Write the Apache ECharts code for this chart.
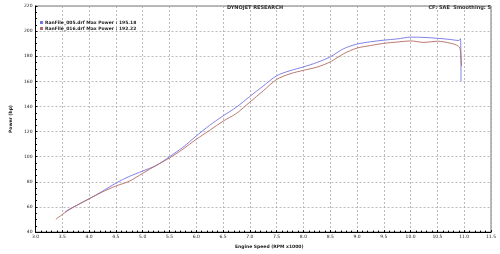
<!DOCTYPE html>
<html>
<head>
<meta charset="utf-8">
<script src="https://cdn.jsdelivr.net/npm/echarts@6/dist/echarts.min.js"></script>
<style>html,body{margin:0;padding:0;background:#fff}#c{width:500px;height:254px}</style>
</head>
<body>
<div id="c"></div>
<script>
const seriesNames = ['RanFile_005.drf Max Power : 195.18', 'RanFile_016.drf Max Power : 192.22'];
const rpm005 = [3.55, 3.6, 3.8, 4.0, 4.25, 4.5, 4.75, 5.0, 5.25, 5.5, 5.75, 6.0, 6.25, 6.5, 6.75, 7.0, 7.25, 7.5, 7.75, 8.0, 8.25, 8.5, 8.75, 9.0, 9.25, 9.5, 9.75, 10.0, 10.25, 10.5, 10.75, 10.9, 10.93, 10.94];
const hp005  = [55.8, 57.5, 62, 66.5, 72.5, 79, 84.3, 88.6, 93, 100, 107.5, 116.5, 125, 132.5, 139.5, 148, 156.3, 164.5, 168.5, 171.5, 175, 179.5, 186, 189.7, 191.5, 192.8, 193.8, 195.2, 195, 194.3, 193.3, 192.5, 194, 160];
const rpm016 = [3.38, 3.6, 3.8, 4.0, 4.25, 4.5, 4.75, 5.0, 5.25, 5.5, 5.75, 6.0, 6.25, 6.5, 6.75, 7.0, 7.25, 7.5, 7.75, 8.0, 8.25, 8.5, 8.75, 9.0, 9.25, 9.5, 9.75, 10.0, 10.25, 10.5, 10.75, 10.85, 10.92, 10.95];
const hp016  = [50.2, 57, 62, 66.5, 72, 76.7, 80.5, 86.8, 93, 99, 106, 113.9, 121, 128.3, 134.5, 143.5, 152.5, 161.5, 166, 168.8, 171.3, 175.5, 182, 186.5, 188.5, 190.3, 191.3, 192.2, 191, 192, 190.3, 189, 186.5, 172];
const colors = ['#7474e4', '#b46a62'];
const titleText = 'DYNOJET RESEARCH';
const infoText = 'CF: SAE  Smoothing: 5';
const xName = 'Engine Speed (RPM x1000)';
const yName = 'Power (hp)';

const pairs = (xs, ys) => xs.map((x, i) => [x, ys[i]]);
const chart = echarts.init(document.getElementById('c'), null, {renderer: 'canvas'});
const font = 'DejaVu Sans';
chart.setOption({
  animation: false,
  backgroundColor: '#fff',
  title: [
    {text: titleText, left: 250, top: 0, textAlign: 'center', textStyle: {fontSize: 5, fontWeight: 'bold', color: '#333', fontFamily: font}},
    {text: infoText, right: 4, top: 0, textStyle: {fontSize: 5, fontWeight: 'bold', color: '#333', fontFamily: font}}
  ],
  legend: {
    left: 35, top: 15, orient: 'vertical', itemWidth: 3, itemHeight: 3, itemGap: 1, icon: 'rect',
    textStyle: {fontSize: 4.5, fontWeight: 'bold', color: '#222', fontFamily: font, padding: [0,0,0,-3]},
    data: seriesNames
  },
  grid: {left: 15, right: 9, top: 6, bottom: 10.5, show: true, borderColor: '#777', borderWidth: 1},
  xAxis: {
    type: 'value', min: 3.0, max: 11.5, interval: 0.5,
    name: xName, nameLocation: 'middle', nameGap: 7,
    nameTextStyle: {fontSize: 4.5, fontWeight: 'bold', color: '#222', fontFamily: font, align: 'center', padding: [0,0,0,12]},
    axisLine: {lineStyle: {color: '#000', width: 1}},
    axisTick: {show: true, length: 2, inside: true, lineStyle: {color: '#000'}},
    minorTick: {show: true, splitNumber: 5, length: 1.5, lineStyle: {color: '#000'}},
    axisLabel: {fontSize: 4.5, color: '#222', margin: 2, fontFamily: font, formatter: v => v.toFixed(1)},
    splitLine: {show: true, lineStyle: {color: '#aaa', type: [2, 2], width: 0.8}}
  },
  yAxis: {
    type: 'value', min: 40, max: 220, interval: 20,
    name: yName, nameLocation: 'middle', nameGap: 10, nameRotate: 90,
    nameTextStyle: {fontSize: 4.5, fontWeight: 'bold', color: '#222', fontFamily: font},
    axisLine: {show: true, lineStyle: {color: '#000', width: 1}},
    axisTick: {show: true, length: 2, inside: true, lineStyle: {color: '#000'}},
    minorTick: {show: true, splitNumber: 4, length: 1.5, lineStyle: {color: '#000'}},
    axisLabel: {fontSize: 4.5, color: '#222', margin: 3, fontFamily: font},
    splitLine: {show: true, lineStyle: {color: '#aaa', type: [2, 2], width: 0.8}}
  },
  series: [
    {name: seriesNames[0], type: 'line', data: pairs(rpm005, hp005), showSymbol: false, smooth: 0.3, lineStyle: {color: colors[0], width: 0.9}, itemStyle: {color: colors[0]}},
    {name: seriesNames[1], type: 'line', data: pairs(rpm016, hp016), showSymbol: false, smooth: 0.3, lineStyle: {color: colors[1], width: 0.9}, itemStyle: {color: colors[1]}}
  ]
});
</script>
</body>
</html>
